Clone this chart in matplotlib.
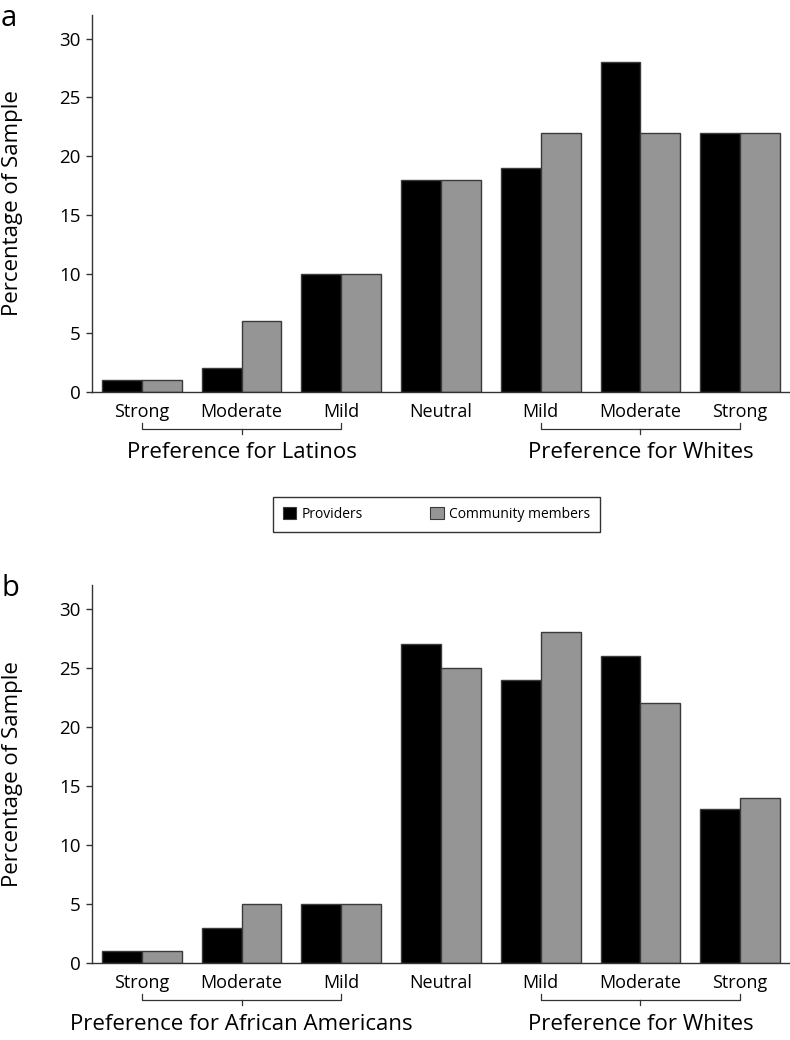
import matplotlib
matplotlib.use("Agg")
import matplotlib.pyplot as plt
from matplotlib.patches import Patch
import matplotlib.transforms as mtransforms
import numpy as np

plt.rcParams['font.family'] = ['Open Sans', 'DejaVu Sans']

tick_labels = ["Strong", "Moderate", "Mild", "Neutral", "Mild", "Moderate", "Strong"]
series_names = ["Providers", "Community members"]

latino_providers = [1, 2, 10, 18, 19, 28, 22]
latino_community = [1, 6, 10, 18, 22, 22, 22]

aa_providers = [1, 3, 5, 27, 24, 26, 13]
aa_community = [1, 5, 5, 25, 28, 22, 14]

group_left_a = "Preference for Latinos"
group_left_b = "Preference for African Americans"
group_right = "Preference for Whites"

yticks = [0, 5, 10, 15, 20, 25, 30]

BLACK = "#000000"
GRAY = "#959595"
EDGE = "#3a3a3a"

W, H = 790, 1040
fig = plt.figure(figsize=(W / 100, H / 100), dpi=100)


def make_panel(top_px, bottom_px, prov, comm, left_label, letter):
    ax = fig.add_axes([92 / W, (H - bottom_px) / H, (W - 92) / W, (bottom_px - top_px) / H])
    x = np.arange(len(tick_labels))
    bw = 0.4
    ax.bar(x - bw / 2, prov, width=bw, color=BLACK, edgecolor=EDGE, linewidth=1.0)
    ax.bar(x + bw / 2, comm, width=bw, color=GRAY, edgecolor=EDGE, linewidth=1.0)
    ax.set_xlim(-0.5, 6.5)
    ax.set_ylim(0, 32)
    ax.set_yticks(yticks)
    ax.set_xticks(x)
    ax.set_xticklabels(tick_labels, fontsize=13)
    ax.tick_params(axis='x', length=0, pad=8)
    ax.tick_params(axis='y', length=4, width=1, pad=4, labelsize=13.5, color="#333333")
    for s in ["top", "right"]:
        ax.spines[s].set_visible(False)
    for s in ["left", "bottom"]:
        ax.spines[s].set_color("#333333")
        ax.spines[s].set_linewidth(1.0)

    ah = bottom_px - top_px
    trans = mtransforms.blended_transform_factory(ax.transData, ax.transAxes)
    y1 = -31 / ah
    y2 = -37 / ah
    y3 = -42 / ah
    for (a, b) in [(0, 2), (4, 6)]:
        mid = (a + b) / 2
        ax.plot([a, a, b, b], [y1, y2, y2, y1], color="#333333", lw=0.9,
                transform=trans, clip_on=False)
        ax.plot([mid, mid], [y2, y3], color="#333333", lw=0.9,
                transform=trans, clip_on=False)
    ax.text(1, -61 / ah, left_label, transform=trans, ha="center", va="center",
            fontsize=16)
    ax.text(5, -61 / ah, group_right, transform=trans, ha="center", va="center",
            fontsize=16)

    fig.text(12.5 / W, 1 - ((top_px + bottom_px) / 2) / H, "Percentage of Sample",
             rotation=90, ha="center", va="center", fontsize=16)
    fig.text(1 / W, 1 - (top_px + 4) / H, letter, ha="left", va="center", fontsize=21)
    return ax


make_panel(15, 392, latino_providers, latino_community, group_left_a, "a")
make_panel(585, 963, aa_providers, aa_community, group_left_b, "b")

handles = [Patch(facecolor=BLACK, edgecolor=EDGE, linewidth=0.8),
           Patch(facecolor=GRAY, edgecolor=EDGE, linewidth=0.8)]
leg = fig.legend(handles, series_names, loc="center",
                 bbox_to_anchor=(436.5 / W, 1 - 514.5 / H), ncol=2,
                 frameon=True, fancybox=False, edgecolor="#000000",
                 fontsize=10, handlelength=1.0, handleheight=1.0,
                 handletextpad=0.4, columnspacing=4.8, borderpad=0.7)
leg.get_frame().set_linewidth(1.0)

fig.savefig("out.png", dpi=100)
